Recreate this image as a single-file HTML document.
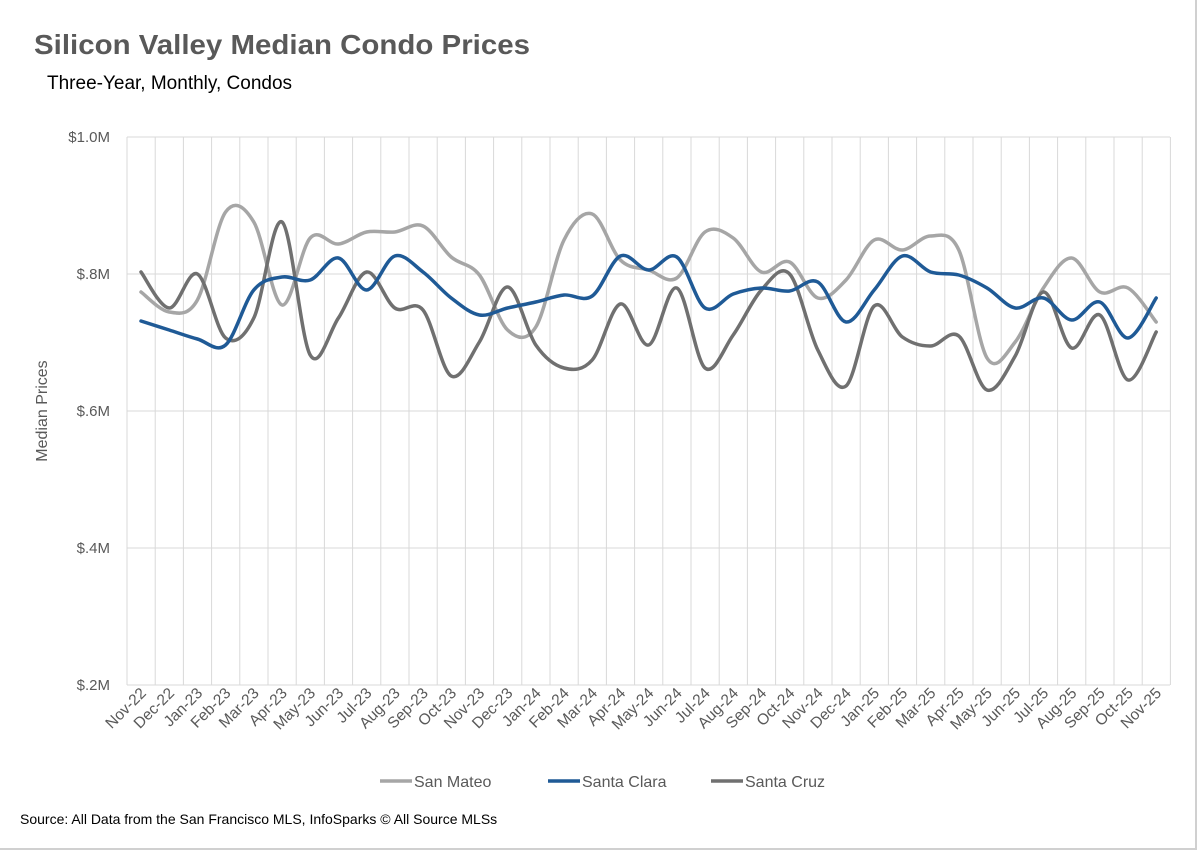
<!DOCTYPE html>
<html><head><meta charset="utf-8">
<style>
body{margin:0;background:#fff;}
svg{display:block;font-family:"Liberation Sans",sans-serif;}
</style></head>
<body>
<svg id="s" width="1200" height="854" viewBox="0 0 1200 854" xmlns="http://www.w3.org/2000/svg">
<rect x="0" y="0" width="1200" height="854" fill="#fff"/>
<line x1="1196" y1="0" x2="1196" y2="849" stroke="#d0d0d0" stroke-width="2"/>
<line x1="0" y1="849" x2="1197" y2="849" stroke="#d0d0d0" stroke-width="2"/>
<text x="34" y="54" font-size="28" font-weight="bold" fill="#595959" textLength="496" lengthAdjust="spacingAndGlyphs">Silicon Valley Median Condo Prices</text>
<text x="47" y="89" font-size="19" fill="#000">Three-Year, Monthly, Condos</text>
<g id="grid" stroke="#d9d9d9" stroke-width="1"></g>
<g font-size="15" fill="#595959" text-anchor="end">
<text x="110" y="142">$1.0M</text>
<text x="110" y="279">$.8M</text>
<text x="110" y="416">$.6M</text>
<text x="110" y="553">$.4M</text>
<text x="110" y="690">$.2M</text>
</g>
<text transform="translate(47,411) rotate(-90)" font-size="16" fill="#595959" text-anchor="middle">Median Prices</text>
<g id="xl" font-size="15.5" fill="#595959" text-anchor="end">
<text>Nov-22</text><text>Dec-22</text><text>Jan-23</text><text>Feb-23</text><text>Mar-23</text><text>Apr-23</text><text>May-23</text><text>Jun-23</text><text>Jul-23</text><text>Aug-23</text><text>Sep-23</text><text>Oct-23</text><text>Nov-23</text><text>Dec-23</text><text>Jan-24</text><text>Feb-24</text><text>Mar-24</text><text>Apr-24</text><text>May-24</text><text>Jun-24</text><text>Jul-24</text><text>Aug-24</text><text>Sep-24</text><text>Oct-24</text><text>Nov-24</text><text>Dec-24</text><text>Jan-25</text><text>Feb-25</text><text>Mar-25</text><text>Apr-25</text><text>May-25</text><text>Jun-25</text><text>Jul-25</text><text>Aug-25</text><text>Sep-25</text><text>Oct-25</text><text>Nov-25</text>
</g>
<g id="lines" fill="none" stroke-width="3.5" stroke-linejoin="round" stroke-linecap="round"></g>
<g font-size="16" fill="#595959">
<line x1="380" y1="781" x2="412" y2="781" stroke="#a6a6a6" stroke-width="3.5"/>
<text x="414" y="787">San Mateo</text>
<line x1="548" y1="781" x2="580" y2="781" stroke="#1f5a96" stroke-width="3.5"/>
<text x="582" y="787">Santa Clara</text>
<line x1="711" y1="781" x2="743" y2="781" stroke="#707070" stroke-width="3.5"/>
<text x="745" y="787">Santa Cruz</text>
</g>
<text x="20" y="824" font-size="14" fill="#000">Source: All Data from the San Francisco MLS, InfoSparks © All Source MLSs</text>
</svg>
<script>
var NS="http://www.w3.org/2000/svg";
var g=document.getElementById("grid");
function ln(x1,y1,x2,y2){var l=document.createElementNS(NS,"line");l.setAttribute("x1",x1);l.setAttribute("y1",y1);l.setAttribute("x2",x2);l.setAttribute("y2",y2);g.appendChild(l);}
[137,274,411,548].forEach(function(y){ln(127,y,1170,y);});
for(var i=0;i<=37;i++){var x=127+28.2*i;ln(x,137,x,685);}
ln(127,685,1170,685);
var X=function(i){return 141+28.2*i;};
var ts=document.getElementById("xl").children;
for(var i=0;i<ts.length;i++){ts[i].setAttribute("transform","translate("+(X(i)+6)+",694) rotate(-45)");}
var data={
"#a6a6a6":[292,312,300,212,222,305,238,244,232,232,226,257,275,330,327,240,214,260,270,278,232,238,272,262,298,280,240,250,236,250,358,342,288,258,292,288,322],
"#1f5a96":[321,330,339,345,290,277,280,258,290,256,272,298,315,308,302,295,296,256,270,257,308,294,288,291,282,322,290,256,272,275,288,308,298,320,302,338,298],
"#707070":[272,308,274,338,318,222,355,318,272,308,310,376,342,287,345,368,360,304,345,288,368,335,290,274,350,386,306,337,346,336,390,356,292,348,315,380,332]};
var L=document.getElementById("lines");
["#a6a6a6","#707070","#1f5a96"].forEach(function(c){
var y=data[c],n=y.length,p=[];for(var i=0;i<n;i++)p.push([X(i),y[i]]);
var d="M"+p[0][0]+","+p[0][1];
for(var i=0;i<n-1;i++){var p0=p[Math.max(i-1,0)],p1=p[i],p2=p[i+1],p3=p[Math.min(i+2,n-1)];
d+=" C"+(p1[0]+(p2[0]-p0[0])/6)+","+(p1[1]+(p2[1]-p0[1])/6)+" "+(p2[0]-(p3[0]-p1[0])/6)+","+(p2[1]-(p3[1]-p1[1])/6)+" "+p2[0]+","+p2[1];}
var pa=document.createElementNS(NS,"path");pa.setAttribute("d",d);pa.setAttribute("stroke",c);L.appendChild(pa);});
</script>
</body></html>
